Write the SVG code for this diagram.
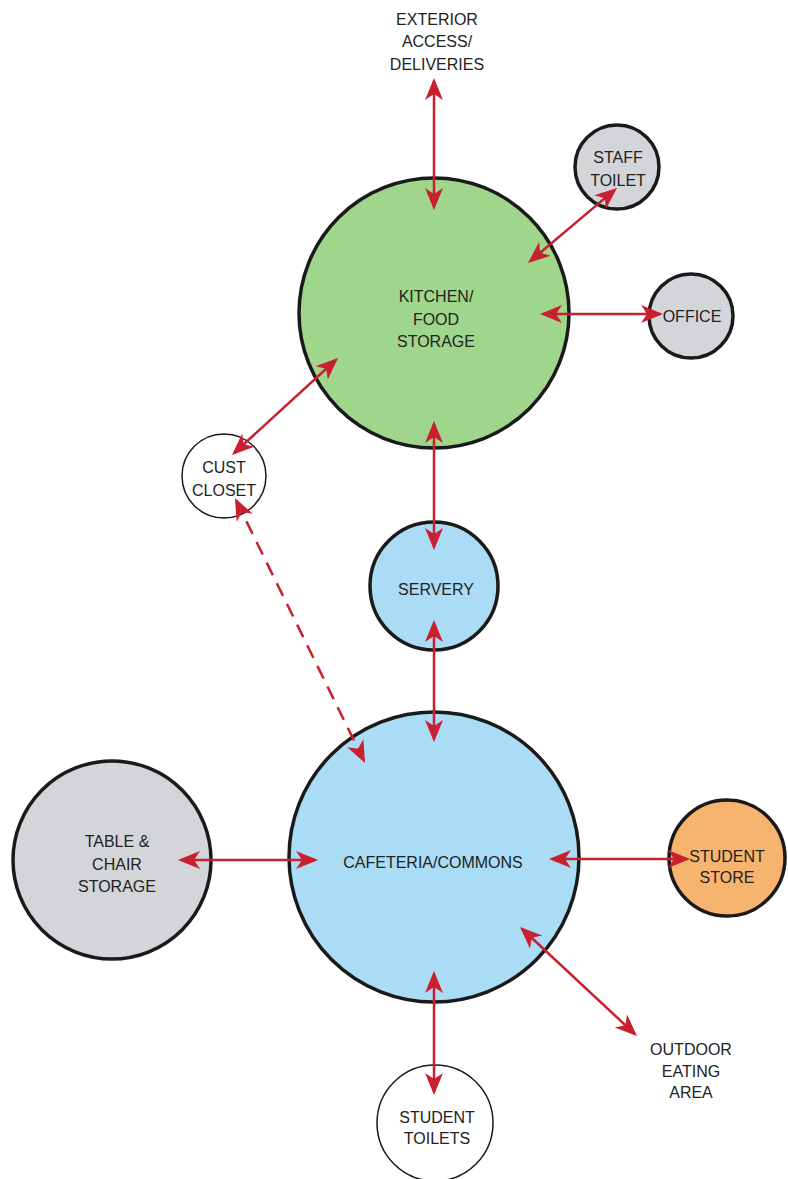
<svg xmlns="http://www.w3.org/2000/svg" width="788" height="1179" viewBox="0 0 788 1179">
<style>
  .lbl { font-family: "Liberation Sans", Arial, sans-serif; font-size: 16px; fill: #222; text-anchor: middle; }
  .node { stroke: #1a1a1a; stroke-width: 3.5; }
  .thin { stroke: #1a1a1a; stroke-width: 1.5; fill: #ffffff; }
  .green { fill: #9fd68c; }
  .blue { fill: #aadcf5; }
  .gray { fill: #d4d5d9; }
  .orange { fill: #f7b46e; }
  .conn { stroke: #c8202f; stroke-width: 2.5; fill: none; marker-start: url(#ah); marker-end: url(#ah); }
  .dash { stroke-dasharray: 14 9; }
</style>
<defs>
  <marker id="ah" markerUnits="userSpaceOnUse" markerWidth="30" markerHeight="24" viewBox="-26 -12 30 24" refX="-3" refY="0" orient="auto-start-reverse" overflow="visible">
    <path d="M0,0 L-22,-9 L-16,0 L-22,9 Z" fill="#c8202f"/>
  </marker>
</defs>
<rect width="788" height="1179" fill="#ffffff"/>

<g id="kitchen">
  <circle class="node green" cx="434" cy="313" r="135"/>
  <text class="lbl" x="436" y="302">KITCHEN/</text>
  <text class="lbl" x="436" y="325">FOOD</text>
  <text class="lbl" x="436" y="347">STORAGE</text>
</g>
<g id="staff-toilet">
  <circle class="node gray" cx="617" cy="167" r="42" stroke-width="3"/>
  <text class="lbl" x="618" y="163">STAFF</text>
  <text class="lbl" x="618" y="186">TOILET</text>
</g>
<g id="office">
  <circle class="node gray" cx="691" cy="316" r="42" stroke-width="3"/>
  <text class="lbl" x="692" y="322">OFFICE</text>
</g>
<g id="cust-closet">
  <circle class="thin" cx="224" cy="476" r="42"/>
  <text class="lbl" x="224" y="473">CUST</text>
  <text class="lbl" x="224" y="496">CLOSET</text>
</g>
<g id="servery">
  <circle class="node blue" cx="434" cy="586" r="64" stroke-width="3"/>
  <text class="lbl" x="436" y="595">SERVERY</text>
</g>
<g id="cafeteria">
  <circle class="node blue" cx="434" cy="857" r="145"/>
  <text class="lbl" x="433" y="868">CAFETERIA/COMMONS</text>
</g>
<g id="table-chair-storage">
  <circle class="node gray" cx="112" cy="860" r="99"/>
  <text class="lbl" x="117" y="847">TABLE &amp;</text>
  <text class="lbl" x="117" y="870">CHAIR</text>
  <text class="lbl" x="117" y="892">STORAGE</text>
</g>
<g id="student-store">
  <circle class="node orange" cx="727" cy="858" r="58" stroke-width="3"/>
  <text class="lbl" x="727" y="862">STUDENT</text>
  <text class="lbl" x="727" y="883">STORE</text>
</g>
<g id="student-toilets">
  <circle class="thin" cx="435" cy="1123" r="58"/>
  <text class="lbl" x="437" y="1123">STUDENT</text>
  <text class="lbl" x="437" y="1144">TOILETS</text>
</g>
<g id="exterior-access">
  <text class="lbl" x="437" y="25">EXTERIOR</text>
  <text class="lbl" x="437" y="47">ACCESS/</text>
  <text class="lbl" x="437" y="70">DELIVERIES</text>
</g>
<g id="outdoor-eating">
  <text class="lbl" x="691" y="1055">OUTDOOR</text>
  <text class="lbl" x="691" y="1077">EATING</text>
  <text class="lbl" x="691" y="1098">AREA</text>
</g>

<g id="connectors">
  <path class="conn" d="M434,81 L434,207"/>
  <path class="conn" d="M530.3,261.1 L614.7,189.9"/>
  <path class="conn" d="M543,314 L660,314"/>
  <path class="conn" d="M234.2,453 L335.8,360"/>
  <path class="conn" d="M434,424 L434,547"/>
  <path class="conn" d="M434,623 L434,739"/>
  <path class="conn dash" d="M236.3,500.7 L363.7,760.3"/>
  <path class="conn" d="M181,860 L315,860"/>
  <path class="conn" d="M552,859 L687,859"/>
  <path class="conn" d="M522.2,929 L634.8,1034"/>
  <path class="conn" d="M434,974 L434,1092"/>
</g>
</svg>
